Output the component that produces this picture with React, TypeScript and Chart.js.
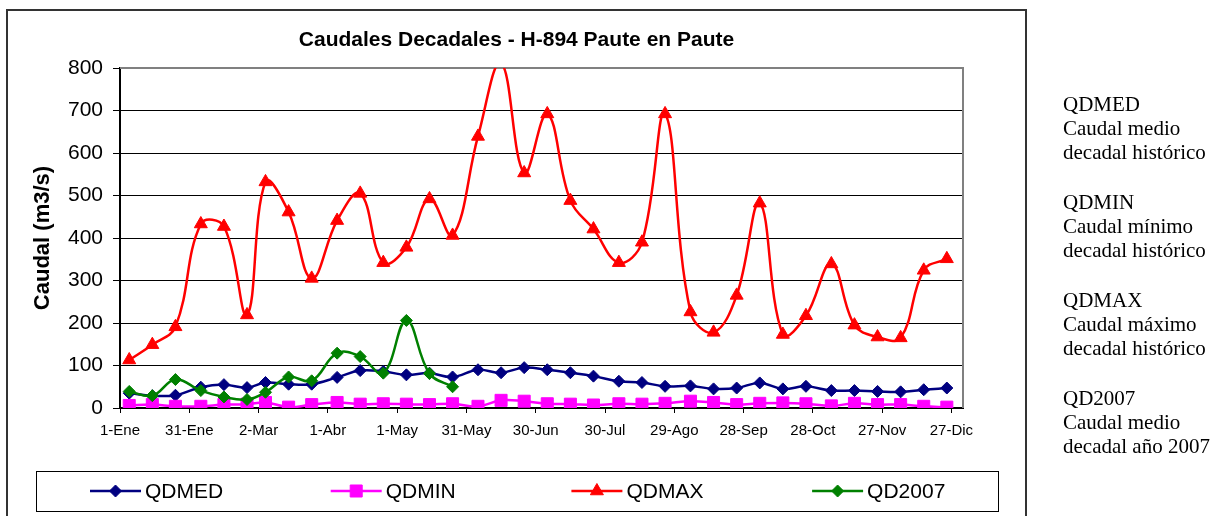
import React, { useEffect, useRef } from 'react';
import { Chart, registerables } from 'chart.js';
import { drawPoint } from 'chart.js/helpers';

Chart.register(...registerables);

// ---- Data ----
const tickLabels = ['1-Ene', '31-Ene', '2-Mar', '1-Abr', '1-May', '31-May', '30-Jun', '30-Jul', '29-Ago', '28-Sep', '28-Oct', '27-Nov', '27-Dic'];

// day of year (1-Ene = 0) of the 5th, 15th and 25th of each month
const decadeDays = [4, 14, 24, 35, 45, 55, 63, 73, 83, 94, 104, 114, 124, 134, 144, 155, 165, 175, 185, 195, 205, 216, 226, 236, 247, 257, 267, 277, 287, 297, 308, 318, 328, 338, 348, 358];

const seriesNames = ['QDMED', 'QDMIN', 'QDMAX', 'QD2007'];

const qdmed = [35, 29, 30, 49, 55, 48, 60, 56, 56, 72, 88, 86, 78, 82, 73, 90, 83, 95, 90, 83, 75, 63, 60, 51, 52, 45, 47, 59, 45, 51, 41, 41, 39, 38, 43, 47];
const qdmin = [6, 8, 4, 4, 8, 9, 13, 2, 8, 13, 9, 10, 9, 8, 10, 4, 18, 16, 10, 9, 7, 10, 9, 11, 16, 13, 8, 11, 12, 10, 5, 11, 8, 8, 4, 2];
const qdmax = [113, 149, 191, 433, 427, 219, 532, 461, 305, 441, 505, 342, 378, 492, 406, 639, 812, 553, 692, 488, 421, 342, 390, 692, 226, 178, 265, 482, 173, 217, 339, 195, 167, 165, 324, 351];
const qd2007 = [39, 29, 67, 41, 26, 20, 37, 73, 64, 129, 121, 82, 206, 81, 50];

const yTitle = 'Caudal (m3/s)';
const chartTitle = 'Caudales Decadales - H-894 Paute en Paute';

const notes = [
  ['QDMED', 'Caudal medio', 'decadal histórico'],
  ['QDMIN', 'Caudal mínimo', 'decadal histórico'],
  ['QDMAX', 'Caudal máximo', 'decadal histórico'],
  ['QD2007', 'Caudal medio', 'decadal año 2007'],
];

// ---- Styles ----
const colors = ['#000080', '#FF00FF', '#FF0000', '#008000'];
const pointStyles = ['rectRot', 'rect', 'triangle', 'rectRot'];
const pointRadii = [6, 8.5, 7.5, 6];
const drawOrder = [3, 2, 1, 0];
const SANS = '"Liberation Sans", Arial, sans-serif';
const SERIF = '"Liberation Serif", "Times New Roman", serif';

const toPoints = (vals: number[]) => vals.map((v, i) => ({ x: decadeDays[i], y: v }));

const plotBorder = {
  id: 'plotBorder',
  beforeDatasetsDraw(chart: any) {
    const { ctx, chartArea } = chart;
    const { left, top, right, bottom } = chartArea;
    ctx.save();
    ctx.strokeStyle = '#808080';
    ctx.lineWidth = 2;
    ctx.beginPath();
    ctx.moveTo(left, top);
    ctx.lineTo(right, top);
    ctx.lineTo(right, bottom);
    ctx.stroke();
    ctx.restore();
  },
};

const boxLegend = {
  id: 'boxLegend',
  afterDraw(chart: any) {
    const ctx = chart.ctx;
    const boxL = 36, boxT = 471, boxR = 998, boxB = 511;
    ctx.save();
    ctx.strokeStyle = '#000';
    ctx.lineWidth = 1;
    ctx.strokeRect(boxL + 0.5, boxT + 0.5, boxR - boxL, boxB - boxT);
    const cy = (boxT + boxB) / 2;
    chart.data.datasets.forEach((ds: any, i: number) => {
      const x0 = 90 + i * 240.7;
      ctx.strokeStyle = ds.borderColor;
      ctx.lineWidth = 2.5;
      ctx.beginPath();
      ctx.moveTo(x0, cy);
      ctx.lineTo(x0 + 51, cy);
      ctx.stroke();
      ctx.fillStyle = ds.pointBackgroundColor;
      ctx.strokeStyle = ds.pointBorderColor;
      ctx.lineWidth = 1;
      drawPoint(ctx, { pointStyle: ds.pointStyle, radius: ds.pointRadius, borderWidth: 1, rotation: 0 }, x0 + 25.5, cy);
      ctx.fillStyle = '#000';
      ctx.font = '21px ' + SANS;
      ctx.textBaseline = 'middle';
      ctx.textAlign = 'left';
      ctx.fillText(ds.label, x0 + 55, cy + 1);
    });
    ctx.restore();
  },
};

export default function App() {
  const canvasRef = useRef<HTMLCanvasElement | null>(null);

  useEffect(() => {
    if (!canvasRef.current) return;
    Chart.defaults.font.family = SANS;
    const seriesValues = [qdmed, qdmin, qdmax, qd2007];
    const chart = new Chart(canvasRef.current, {
      type: 'line',
      data: {
        datasets: seriesValues.map((vals, i) => ({
          label: seriesNames[i],
          data: toPoints(vals),
          borderColor: colors[i],
          backgroundColor: colors[i],
          pointBackgroundColor: colors[i],
          pointBorderColor: colors[i],
          pointBorderWidth: 1,
          pointStyle: pointStyles[i],
          pointRadius: pointRadii[i],
          borderWidth: 2.5,
          tension: 0.4,
          fill: false,
          order: drawOrder[i],
        })),
      },
      options: {
        responsive: false,
        animation: false,
        events: [],
        layout: { padding: { left: 0, top: 68, right: 262, bottom: 78 } },
        plugins: {
          legend: { display: false },
          title: { display: false },
          tooltip: { enabled: false },
        },
        scales: {
          x: {
            type: 'linear',
            min: 0,
            max: 365,
            afterFit: (s: any) => { s.height = 30; },
            grid: { display: true, drawOnChartArea: false, drawTicks: true, tickLength: 5, tickColor: '#000', color: '#000' },
            border: { display: true, color: '#000', width: 2 },
            ticks: {
              stepSize: 30,
              includeBounds: false,
              autoSkip: false,
              maxRotation: 0,
              minRotation: 0,
              padding: 9,
              color: '#000',
              font: { size: 15 },
              callback: (v: any) => tickLabels[Math.round(Number(v) / 30)] ?? '',
            },
          },
          y: {
            min: 0,
            max: 800,
            afterFit: (s: any) => { s.width = 120; },
            grid: { color: '#000', lineWidth: 1, tickLength: 7, tickColor: '#000' },
            border: { color: '#000', width: 2 },
            ticks: { stepSize: 100, padding: 10, color: '#000', font: { size: 21 } },
            title: {
              display: true,
              text: yTitle,
              color: '#000',
              font: { size: 22, weight: 'bold' },
              padding: { top: 30, bottom: 0 },
            },
          },
        },
      },
      plugins: [plotBorder, boxLegend],
    } as any);
    return () => chart.destroy();
  }, []);

  return (
    <div style={{ position: 'fixed', left: 0, top: 0, width: 1225, height: 516, overflow: 'hidden', background: '#fff' }}>
      <div style={{ position: 'absolute', left: 6, top: 9, width: 1021, height: 600, boxSizing: 'border-box', border: '2px solid #333' }} />
      <canvas ref={canvasRef} width={1225} height={516} style={{ position: 'absolute', left: 0, top: 0, display: 'block' }} />
      <div style={{ position: 'absolute', left: 0, top: 27, width: 1033, textAlign: 'center', fontFamily: SANS, fontWeight: 'bold', fontSize: 21, lineHeight: '24px', color: '#000', whiteSpace: 'nowrap' }}>
        {chartTitle}
      </div>
      {notes.map((lines, gi) => (
        <div key={gi} style={{ position: 'absolute', left: 1063, top: 92 + gi * 98, fontFamily: SERIF, fontSize: 21, lineHeight: '24px', color: '#000', whiteSpace: 'nowrap' }}>
          {lines.map((t, li) => (<div key={li}>{t}</div>))}
        </div>
      ))}
    </div>
  );
}
